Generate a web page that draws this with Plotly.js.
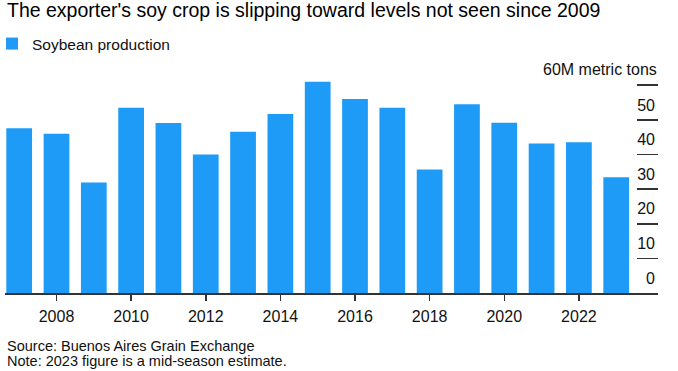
<!DOCTYPE html>
<html><head><meta charset="utf-8">
<script src="https://cdn.plot.ly/plotly-3.0.1.min.js"></script>
<style>html,body{margin:0;padding:0;background:#fff}</style>
</head><body><div id="chart" style="width:678px;height:371px"></div>
<script>
const years = [2007,2008,2009,2010,2011,2012,2013,2014,2015,2016,2017,2018,2019,2020,2021,2022,2023];
const production = [47.6,46.0,31.9,53.5,49.1,40.0,46.6,51.7,61.0,56.0,53.5,35.7,54.5,49.2,43.2,43.5,33.4];
const xTickYears = [2008,2010,2012,2014,2016,2018,2020,2022];
const yTickValues = [0,10,20,30,40,50,60];
const yTickLabels = ['0','10','20','30','40','50',''];
const yTopValue = 60;
const yTopLabel = '60M metric tons';
const seriesName = 'Soybean production';
const titleText = "The exporter's soy crop is slipping toward levels not seen since 2009";
const sourceText = 'Source: Buenos Aires Grain Exchange';
const noteText = 'Note: 2023 figure is a mid-season estimate.';

const FONT = 'Liberation Sans, Arial, Helvetica, sans-serif';
const W = 678, H = 371;
const M = {l: 5, r: 20, t: 61, b: 78, autoexpand: false};
const plotH = H - M.t - M.b, plotW = W - M.l - M.r;
const py = p => (H - M.b - p) / plotH;   // pixel row -> paper y
const px = p => (p - M.l) / plotW;       // pixel col -> paper x

const data = [{
  type: 'bar', x: years, y: production, name: seriesName,
  marker: {color: '#1e9bf7', line: {width: 0}},
  showlegend: true, hoverinfo: 'x+y'
}];

const layout = {
  width: W, height: H,
  margin: M,
  paper_bgcolor: '#fff', plot_bgcolor: '#fff',
  font: {family: FONT, color: '#111'},
  bargap: 0.31,
  title: {text: titleText, font: {size: 19.5, color: '#000', family: FONT},
    x: 7/W, xref: 'container', xanchor: 'left', y: 1 - 3/H, yref: 'container', yanchor: 'top', pad: {t: 0, l: 0}},
  showlegend: true,
  legend: {orientation: 'h', x: px(-8), xref: 'paper', xanchor: 'left', y: py(27), yref: 'paper', yanchor: 'top',
    font: {size: 15.5, color: '#111'}, itemwidth: 30, bgcolor: 'rgba(0,0,0,0)'},
  xaxis: {
    range: [2006.62, 2024.12], tickvals: xTickYears, ticktext: xTickYears.map(String),
    ticks: 'outside', ticklen: 6, tickwidth: 1.5, tickcolor: '#333',
    showline: true, linecolor: '#333', linewidth: 1.5, showgrid: false, zeroline: false,
    tickfont: {size: 16, color: '#111'}, ticklabelstandoff: 2, fixedrange: true
  },
  yaxis: {
    range: [0, 67], side: 'right', tickvals: yTickValues, ticktext: yTickLabels,
    ticks: 'inside', ticklen: 21, tickwidth: 1.5, tickcolor: '#333',
    ticklabelposition: 'inside top', ticklabelshift: -3, showgrid: false, zeroline: false, showline: false,
    tickfont: {size: 16, color: '#111'}, fixedrange: true
  },
  annotations: [
    {text: yTopLabel, xref: 'paper', yref: 'y', x: 1, y: yTopValue, xanchor: 'right', yanchor: 'bottom', yshift: 6.5,
      showarrow: false, font: {size: 16, color: '#111'}, align: 'right', borderpad: 0},
    {text: sourceText, xref: 'paper', yref: 'paper', x: px(5), y: py(336), xanchor: 'left', yanchor: 'top',
      showarrow: false, font: {size: 14.5, color: '#111'}, align: 'left'},
    {text: noteText, xref: 'paper', yref: 'paper', x: px(5), y: py(351), xanchor: 'left', yanchor: 'top',
      showarrow: false, font: {size: 14.5, color: '#111'}, align: 'left'}
  ]
};

Plotly.newPlot('chart', data, layout, {displayModeBar: false, staticPlot: true});
</script></body></html>
